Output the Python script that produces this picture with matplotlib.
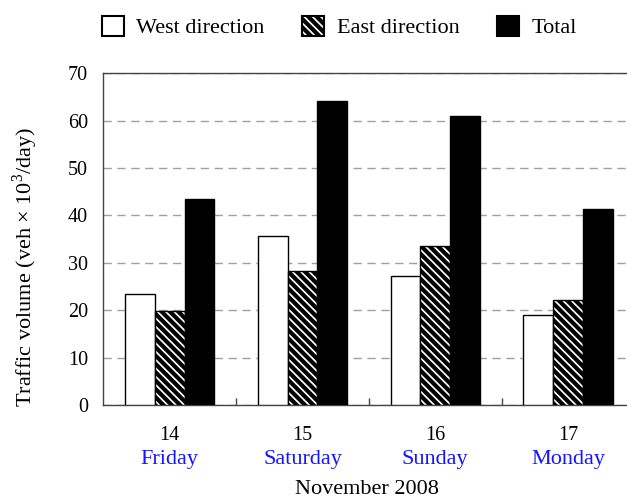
import matplotlib
matplotlib.use('Agg')
import matplotlib.pyplot as plt
import matplotlib.patches as mpatches
import numpy as np

plt.rcParams['font.family'] = ['Liberation Serif', 'DejaVu Serif']
plt.rcParams['mathtext.fontset'] = 'custom'
plt.rcParams['mathtext.rm'] = 'Liberation Serif'
plt.rcParams['hatch.linewidth'] = 3.0
plt.rcParams['hatch.color'] = 'black'

# data
dates = ['14', '15', '16', '17']
days = ['Friday', 'Saturday', 'Sunday', 'Monday']
west = [23.4, 35.6, 27.2, 19.0]
east = [19.9, 28.3, 33.5, 22.1]
total = [43.4, 64.1, 61.0, 41.3]

fig = plt.figure(figsize=(6.27, 5.0), dpi=100)
# axes runs slightly past the right edge, as in the cropped original
ax = fig.add_axes([0.1650, 0.19, 0.8466, 0.6634])

x = np.arange(len(dates))
w = 0.224
ax.bar(x - w, west, w, color='white', edgecolor='black', linewidth=1.0, zorder=3)
ax.bar(x, east, w, color='white', edgecolor='black', hatch='\\\\\\\\', linewidth=1.0, zorder=3)
ax.bar(x + w, total, w, color='black', edgecolor='black', linewidth=1.0, zorder=3)

ax.set_xlim(-0.5, 3.5)
ax.set_ylim(0, 70)
ax.set_yticks(range(0, 80, 10))
ax.tick_params(axis='y', length=0, pad=11, labelsize=14.5)
ax.yaxis.grid(True, linestyle=(0, (6, 4)), color='#a0a0a0', linewidth=1.0, zorder=0)

ax.set_xticks(x)
ax.set_xticklabels(dates)
ax.tick_params(axis='x', length=0, pad=15, labelsize=14.5)
ax.set_xticks([0.5, 1.5, 2.5], minor=True)
ax.tick_params(axis='x', which='minor', direction='in', length=5, width=1, color='#444444')

for i, d in enumerate(days):
    ax.annotate(d, xy=(x[i], 0), xycoords=('data', 'axes fraction'),
                xytext=(0, -39), textcoords='offset points', ha='center', va='center',
                fontsize=16, color='#1414ff')

for s in ax.spines.values():
    s.set_color('#444444')
    s.set_linewidth(1.0)

fig.text(0.585, 0.022, 'November 2008', ha='center', va='center', fontsize=16)
fig.text(0.040, 0.466, 'Traffic volume (veh × 10$^3$/day)', rotation=90,
         ha='center', va='center', fontsize=16)

handles = [
    mpatches.Patch(facecolor='white', edgecolor='black', linewidth=1.5),
    mpatches.Patch(facecolor='white', edgecolor='black', hatch='\\\\\\\\', linewidth=1.5),
    mpatches.Patch(facecolor='black', edgecolor='black', linewidth=1.5),
]
fig.legend(handles, ['West direction', 'East direction', 'Total'], loc='center',
           bbox_to_anchor=(0.541, 0.946), ncol=3, frameon=False, fontsize=16,
           handlelength=1.0, handleheight=1.0, handletextpad=0.55, columnspacing=1.7)

fig.savefig('out.png', dpi=100)
